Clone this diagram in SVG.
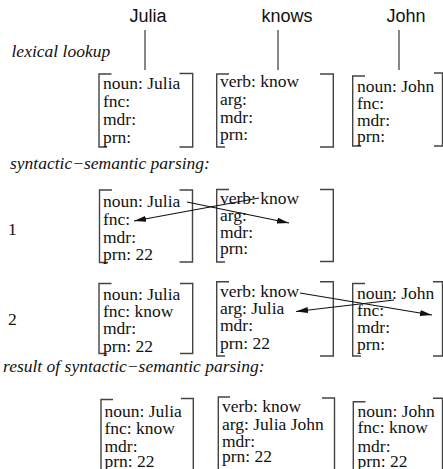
<svg xmlns="http://www.w3.org/2000/svg" width="443" height="469" viewBox="0 0 443 469">
<defs>
<style>
.t{font-family:"Liberation Serif","Times New Roman",serif;font-size:17.5px;fill:#111}
.i{font-family:"Liberation Serif","Times New Roman",serif;font-size:17.5px;font-style:italic;fill:#111}
.w{font-family:"Liberation Sans",Arial,sans-serif;font-size:18px;fill:#111;text-anchor:middle}
.br{fill:none;stroke:#444;stroke-width:1.4}
.ln{stroke:#555;stroke-width:1.4}
.ar{stroke:#111;stroke-width:1.2;fill:none;marker-end:url(#ah)}
</style>
<marker id="ah" viewBox="0 0 12 6" refX="12" refY="3" markerWidth="12" markerHeight="6" markerUnits="userSpaceOnUse" orient="auto">
<path d="M0,0 L12,3 L0,6 z" fill="#111"/>
</marker>
</defs>
<rect width="443" height="469" fill="#fff"/>
<g id="labels">
<text class="w" x="148" y="22">Julia</text>
<text class="w" x="287" y="22">knows</text>
<text class="w" x="406" y="22">John</text>
<line class="ln" x1="145" y1="30" x2="145" y2="70"/>
<line class="ln" x1="278" y1="30" x2="278" y2="70"/>
<line class="ln" x1="399" y1="30" x2="399" y2="70"/>
<text class="i" x="11.5" y="57">lexical lookup</text>
<text class="i" x="10" y="169">syntactic−semantic parsing:</text>
<text class="t" x="8" y="235">1</text>
<text class="t" x="8" y="325">2</text>
<text class="i" x="3" y="372">result of syntactic−semantic parsing:</text>
</g>
<!-- lexical lookup -->
<g id="lex-julia">
<path class="br" d="M111.5,74 H99 V147 H107"/>
<path class="br" d="M179.5,73.5 H192.7 V147 H179.5"/>
<text class="t" x="103" y="89">noun: Julia</text>
<text class="t" x="103" y="107">fnc:</text>
<text class="t" x="103" y="125">mdr:</text>
<text class="t" x="103" y="143">prn:</text>
</g>
<g id="lex-know">
<path class="br" d="M229,74 H216.7 V147 H225"/>
<path class="br" d="M320,74 H333.3 V147 H320"/>
<text class="t" x="220" y="87">verb: know</text>
<text class="t" x="220" y="105">arg:</text>
<text class="t" x="220" y="122.5">mdr:</text>
<text class="t" x="220" y="140">prn:</text>
</g>
<g id="lex-john">
<path class="br" d="M365,76 H352.7 V146 H361"/>
<path class="br" d="M434,73 H442.5 V146 H434"/>
<text class="t" x="357" y="92">noun: John</text>
<text class="t" x="357" y="108.5">fnc:</text>
<text class="t" x="357" y="125.5">mdr:</text>
<text class="t" x="357" y="142">prn:</text>
</g>
<!-- step 1 -->
<g id="s1-julia">
<path class="br" d="M112,190 H99.5 V262.5 H108"/>
<path class="br" d="M179.5,190 H192.5 V262 H179.5"/>
<text class="t" x="103" y="206.5">noun: Julia</text>
<text class="t" x="103" y="224.5">fnc:</text>
<text class="t" x="103" y="243">mdr:</text>
<text class="t" x="103" y="260">prn: 22</text>
</g>
<g id="s1-know">
<path class="br" d="M229,189.5 H216.7 V262 H225"/>
<path class="br" d="M320,189.5 H333.3 V261.5 H320"/>
<text class="t" x="220" y="204">verb: know</text>
<text class="t" x="220" y="220.5">arg:</text>
<text class="t" x="220" y="238">mdr:</text>
<text class="t" x="220" y="254">prn:</text>
</g>
<!-- step 2 -->
<g id="s2-julia">
<path class="br" d="M111.5,283.5 H99 V353.5 H107"/>
<path class="br" d="M180,283.5 H192.7 V353.5 H180"/>
<text class="t" x="103" y="300">noun: Julia</text>
<text class="t" x="103" y="317">fnc: know</text>
<text class="t" x="103" y="334">mdr:</text>
<text class="t" x="103" y="351.5">prn: 22</text>
</g>
<g id="s2-know">
<path class="br" d="M229,281.7 H216.7 V356 H225"/>
<path class="br" d="M320,281.7 H333.3 V356 H320"/>
<text class="t" x="220" y="297">verb: know</text>
<text class="t" x="220" y="314">arg: Julia</text>
<text class="t" x="220" y="331">mdr:</text>
<text class="t" x="220" y="348.5">prn: 22</text>
</g>
<g id="s2-john">
<path class="br" d="M365,283.5 H352.7 V356 H361"/>
<path class="br" d="M433,281.7 H442.5 V356 H433"/>
<text class="t" x="357" y="298.5">noun: John</text>
<text class="t" x="357" y="316">fnc:</text>
<text class="t" x="357" y="332.5">mdr:</text>
<text class="t" x="357" y="349.5">prn:</text>
</g>
<!-- result -->
<g id="r-julia">
<path class="br" d="M113,399.5 H101 V475"/>
<path class="br" d="M181,398.5 H193.3 V475"/>
<text class="t" x="104.5" y="416.5">noun: Julia</text>
<text class="t" x="104.5" y="433.5">fnc: know</text>
<text class="t" x="104.5" y="451.5">mdr:</text>
<text class="t" x="104.5" y="467">prn: 22</text>
</g>
<g id="r-know">
<path class="br" d="M230,397 H218.3 V475"/>
<path class="br" d="M322,398 H334.5 V475"/>
<text class="t" x="222" y="412">verb: know</text>
<text class="t" x="222" y="429.5">arg: Julia John</text>
<text class="t" x="222" y="447">mdr:</text>
<text class="t" x="222" y="462">prn: 22</text>
</g>
<g id="r-john">
<path class="br" d="M365.5,401.7 H353.3 V475"/>
<path class="br" d="M433,398.3 H442.5 V475"/>
<text class="t" x="357.5" y="417">noun: John</text>
<text class="t" x="357.5" y="433">fnc: know</text>
<text class="t" x="357.5" y="451.5">mdr:</text>
<text class="t" x="357.5" y="467">prn: 22</text>
</g>
<g id="connectors">
<line class="ar" x1="187" y1="202" x2="289" y2="223"/>
<line class="ar" x1="259" y1="198" x2="134" y2="221"/>
<line class="ar" x1="300" y1="293" x2="432" y2="315"/>
<line class="ar" x1="394" y1="300" x2="296" y2="311.5"/>
</g>
</svg>
